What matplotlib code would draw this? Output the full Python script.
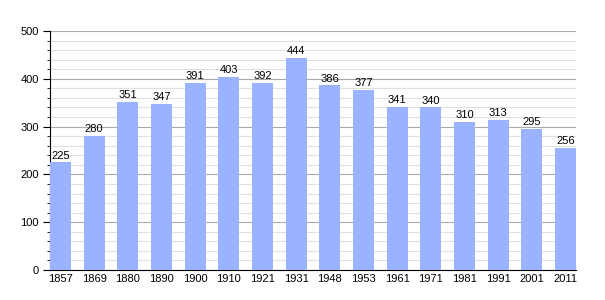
import matplotlib
matplotlib.use("Agg")
import matplotlib.pyplot as plt
from matplotlib.ticker import MultipleLocator

plt.rcParams["font.family"] = ["Liberation Sans", "DejaVu Sans"]

years = ["1857", "1869", "1880", "1890", "1900", "1910", "1921", "1931",
         "1948", "1953", "1961", "1971", "1981", "1991", "2001", "2011"]
population = [225, 280, 351, 347, 391, 403, 392, 444,
              386, 377, 341, 340, 310, 313, 295, 256]

fig = plt.figure(figsize=(6.05, 3.0), dpi=100)
ax = fig.add_axes([50 / 605, 30 / 300, 526 / 605, 239 / 300])

w = 0.624
x = list(range(len(years)))
ax.bar(x, population, width=w, align="edge", color="#99b3ff", zorder=3)
for xi, v in zip(x, population):
    ax.text(xi + w / 2, v + 4, str(v), ha="center", va="bottom", fontsize=8, zorder=4)

ax.set_xlim(0, len(years) - 1 + w)
ax.set_ylim(0, 500)
ax.set_xticks([xi + w / 2 for xi in x])
ax.set_xticklabels(years)
ax.yaxis.set_major_locator(MultipleLocator(100))
ax.yaxis.set_minor_locator(MultipleLocator(20))
ax.grid(axis="y", which="major", color="#aaaaaa", linewidth=0.8, zorder=0)
ax.grid(axis="y", which="minor", color="#e0e0e0", linewidth=0.8, zorder=0)

ax.tick_params(axis="x", length=0, labelsize=8, pad=3)
ax.tick_params(axis="y", which="major", direction="out", length=5, labelsize=8, pad=3)
ax.tick_params(axis="y", which="minor", direction="out", length=2.5)
for s in ["top", "right"]:
    ax.spines[s].set_visible(False)

fig.savefig("out.png", dpi=100)
